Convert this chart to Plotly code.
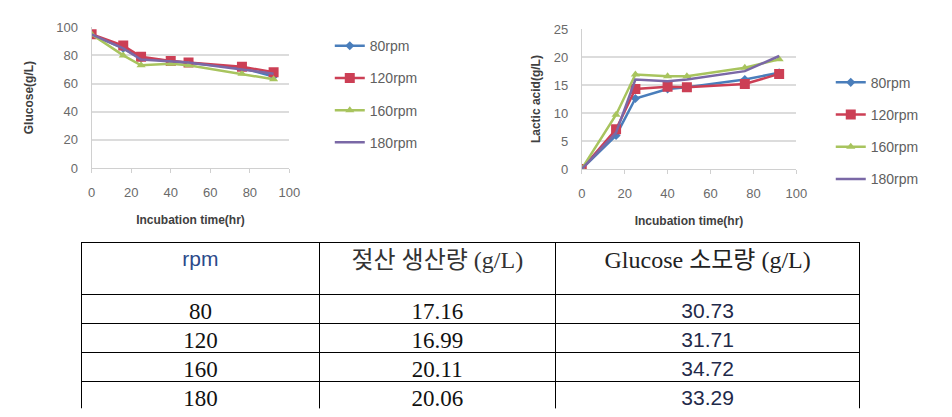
import plotly.graph_objects as go

W, H = 952, 417

# ---------------- data ----------------
time_hr = [0, 16, 25, 40, 49, 76, 92]
series_names = ["80rpm", "120rpm", "160rpm", "180rpm"]

glucose = {
    "80rpm":  [95, 85, 78, 76, 75, 71, 65],
    "120rpm": [95, 87, 79, 76, 75, 72, 68],
    "160rpm": [95, 80, 73, 74, 73, 67, 63],
    "180rpm": [95, 85, 77, 76, 75, 70, 67],
}
lactic = {
    "80rpm":  [0, 6.0, 12.6, 14.3, 14.6, 16.0, 17.2],
    "120rpm": [0, 7.1, 14.3, 14.7, 14.6, 15.2, 17.0],
    "160rpm": [0, 9.7, 16.9, 16.6, 16.6, 18.1, 19.6],
    "180rpm": [0, 6.5, 16.0, 15.7, 16.0, 17.5, 20.2],
}

table_header = ["rpm", "젖산 생산량 (g/L)", "Glucose 소모량 (g/L)"]
table_rpm = ["80", "120", "160", "180"]
table_lactic = ["17.16", "16.99", "20.11", "20.06"]
table_glucose = ["30.73", "31.71", "34.72", "33.29"]

# ---------------- styles ----------------
colors = {"80rpm": "#4a7ebb", "120rpm": "#cc3f55", "160rpm": "#a8c45e", "180rpm": "#7a68a6"}
symbols = {"80rpm": "diamond", "120rpm": "square", "160rpm": "triangle-up", "180rpm": None}
msizes = {"80rpm": 7, "120rpm": 10, "160rpm": 8, "180rpm": 0}

def px_x(p):
    return p / W

def px_y(p):
    return 1 - p / H

fig = go.Figure()

for name in series_names:
    mk = dict(color=colors[name], size=msizes[name], symbol=symbols[name] or "circle")
    mode = "lines+markers" if symbols[name] else "lines"
    fig.add_trace(go.Scatter(
        x=time_hr, y=glucose[name], name=name, mode=mode,
        line=dict(color=colors[name], width=2.5), marker=mk,
        xaxis="x", yaxis="y", legend="legend", legendgroup="L" + name,
    ))
for name in series_names:
    mk = dict(color=colors[name], size=msizes[name], symbol=symbols[name] or "circle")
    mode = "lines+markers" if symbols[name] else "lines"
    fig.add_trace(go.Scatter(
        x=time_hr, y=lactic[name], name=name, mode=mode,
        line=dict(color=colors[name], width=2.5), marker=mk,
        xaxis="x2", yaxis="y2", legend="legend2", legendgroup="R" + name,
    ))

serif = "Liberation Serif, Noto Sans CJK KR"
sans = "Liberation Sans, Noto Sans CJK KR"
blk = "#111111"
navy = "#1f2a4a"

fig.add_trace(go.Table(
    domain=dict(x=[px_x(79), px_x(870)], y=[0.0, px_y(244)]),
    columnwidth=[241, 240, 309],
    header=dict(
        values=table_header,
        height=52,
        align="center",
        line=dict(color="#000000", width=1),
        fill=dict(color="white"),
        font=dict(family=[sans, serif, serif], size=[21, 24, 24],
                  color=["#2b4a8a", "#333333", "#222222"]),
    ),
    cells=dict(
        values=[table_rpm, table_lactic, table_glucose],
        height=29,
        align="center",
        line=dict(color="#000000", width=1),
        fill=dict(color="white"),
        font=dict(
            family=[serif, serif, sans],
            size=[23, 23, 21],
            color=[blk, blk, navy],
        ),
    ),
))

tickfont = dict(family="Liberation Sans", size=13, color="#6a6a6a")
titlefont = dict(family="Liberation Sans", size=12, color="#404040")
legfont = dict(family="Liberation Sans", size=14, color="#606060")
grid = "#dcdcdc"

common_x = dict(range=[0, 100], tickvals=[0, 20, 40, 60, 80, 100], showgrid=False,
                showline=True, linecolor="#d0d0d0", ticks="outside", ticklen=4,
                tickcolor="#d0d0d0", tickfont=tickfont, zeroline=False, fixedrange=True,
                ticklabelstandoff=8)
common_y = dict(showgrid=True, gridcolor=grid, gridwidth=1.5, showline=True,
                linecolor="#d0d0d0", ticks="", tickfont=tickfont, zeroline=False,
                fixedrange=True, ticklabelstandoff=10)

fig.update_layout(
    width=W, height=H,
    margin=dict(l=0, r=0, t=0, b=0),
    paper_bgcolor="white", plot_bgcolor="white",
    xaxis=dict(domain=[px_x(89), px_x(290)], anchor="y",
               title=dict(text="<b>Incubation time(hr)</b>", font=titlefont, standoff=17),
               **common_x),
    yaxis=dict(domain=[px_y(167), px_y(21)], anchor="x", range=[0, 100],
               tickvals=[0, 20, 40, 60, 80, 100],
               title=dict(text="<b>Glucose(g/L)</b>", font=titlefont, standoff=20),
               **common_y),
    xaxis2=dict(domain=[px_x(587), px_x(805)], anchor="y2",
                title=dict(text="<b>Incubation time(hr)</b>", font=titlefont, standoff=17),
                **common_x),
    yaxis2=dict(domain=[px_y(168), px_y(23)], anchor="x2", range=[0, 25],
                tickvals=[0, 5, 10, 15, 20, 25],
                title=dict(text="<b>Lactic acid(g/L)</b>", font=titlefont, standoff=10),
                **common_y),
    legend=dict(x=px_x(331), y=px_y(24), xanchor="left", yanchor="top",
                font=legfont, traceorder="grouped", tracegroupgap=11,
                bgcolor="rgba(0,0,0,0)"),
    legend2=dict(x=px_x(840), y=px_y(62), xanchor="left", yanchor="top",
                 font=legfont, traceorder="grouped", tracegroupgap=11,
                 bgcolor="rgba(0,0,0,0)"),
    showlegend=True,
)

fig.write_html("out.html")
